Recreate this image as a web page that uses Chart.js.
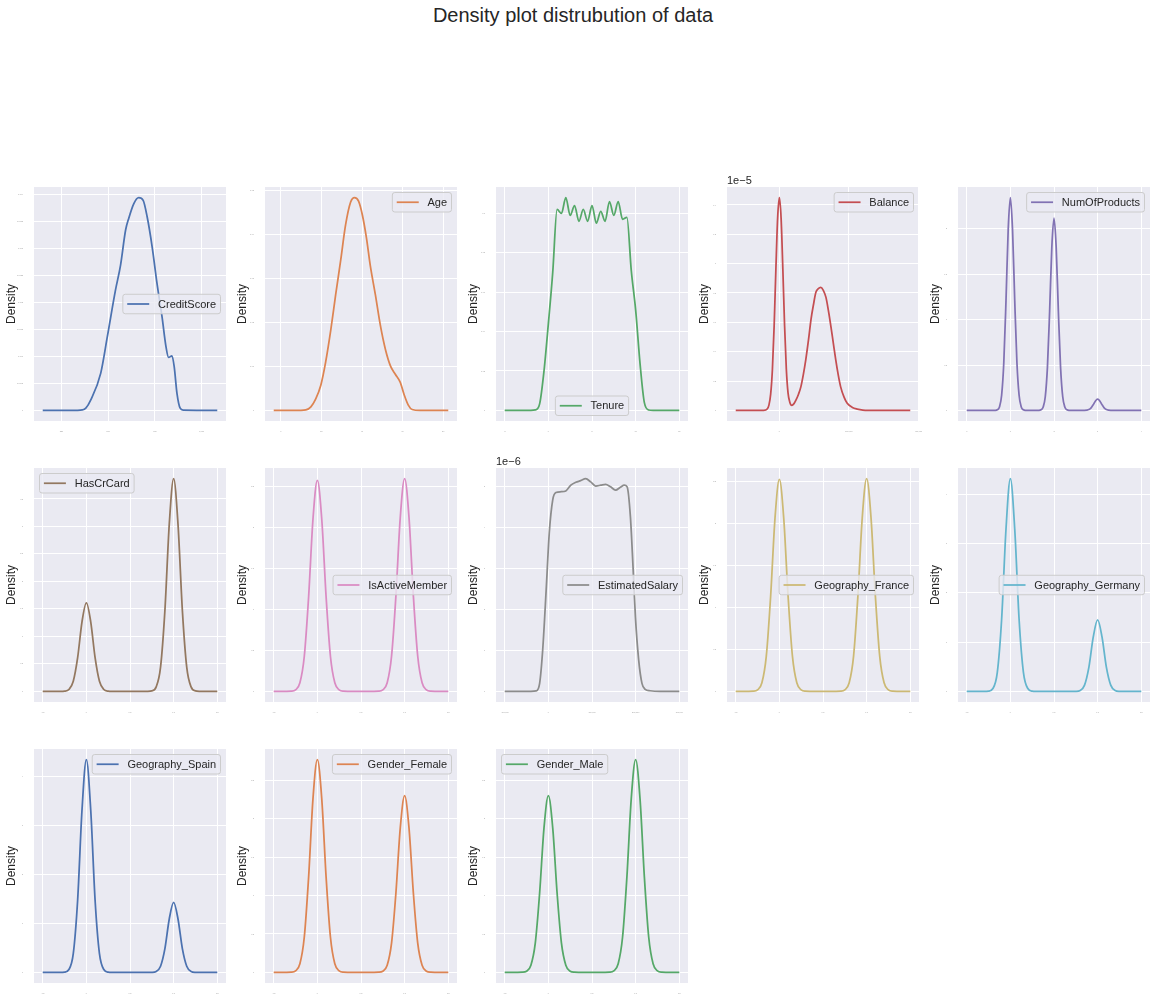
<!DOCTYPE html>
<html><head><meta charset="utf-8">
<script src="https://cdn.jsdelivr.net/npm/chart.js@4.4.1/dist/chart.umd.min.js"></script>
<style>
html,body{margin:0;padding:0;background:#fff;}
body{width:1156px;height:1001px;position:relative;overflow:hidden;font-family:"Liberation Sans",Arial,sans-serif;}
#title{position:absolute;left:0;width:1146px;top:4px;text-align:center;font-size:20px;line-height:22px;color:#262626;}
canvas{position:absolute;}
</style></head><body>
<div id="title">Density plot distrubution of data</div>
<script>
// ---------------- data ----------------
const creditScoreX = [149.5, 300, 362, 380, 406, 460, 495, 539, 566, 593, 610, 637, 663, 687, 708, 735, 761, 788, 809, 823, 841, 853, 868, 885, 901, 1083.5];
const creditScoreY = [0, 0, 0.00001, 0.00004, 0.00019, 0.00069, 0.00136, 0.00223, 0.00269, 0.00334, 0.00356, 0.00383, 0.00394, 0.00389, 0.00359, 0.00303, 0.00235, 0.00173, 0.00118, 0.00098, 0.00101, 0.00081, 0.00031, 0.00004, 0.000005, 0];
const creditScoreXTicks = [250, 500, 750, 1000];
const creditScoreYTicks = [0, 0.0005, 0.001, 0.0015, 0.002, 0.0025, 0.003, 0.0035, 0.004];

const ageX = [-3.5, 9.9, 12.3, 14.8, 17.2, 19.7, 22.1, 24.6, 27, 29.5, 31.9, 34.4, 36.3, 38.3, 40.2, 42.2, 44.1, 46.6, 49, 51.6, 54, 56.4, 58.8, 60.8, 62.8, 64.7, 68.6, 82.5];
const ageY = [0, 0, 0.0001, 0.0008, 0.0026, 0.0057, 0.011, 0.0182, 0.0262, 0.0341, 0.0421, 0.0473, 0.0483, 0.0475, 0.0443, 0.0391, 0.0328, 0.0262, 0.0194, 0.0137, 0.0101, 0.0082, 0.0064, 0.0035, 0.0012, 0.0002, 0, 0];
const ageXTicks = [0, 20, 40, 60, 80];
const ageYTicks = [0, 0.01, 0.02, 0.03, 0.04, 0.05];

const tenureX = [-5, -2.5, -2, -1.5, -1, -0.5, 0, 0.5, 1, 1.5, 2, 2.5, 3, 3.5, 4, 4.5, 5, 5.5, 6, 6.5, 7, 7.5, 8, 8.5, 9, 9.5, 10, 10.5, 11, 11.5, 12, 12.5, 15];
const tenureY = [0, 0, 0, 0.0002, 0.0033, 0.020, 0.044, 0.070, 0.102, 0.100, 0.108, 0.099, 0.104, 0.096, 0.102, 0.096, 0.104, 0.095, 0.101, 0.096, 0.106, 0.099, 0.106, 0.097, 0.098, 0.071, 0.051, 0.024, 0.0039, 0.0002, 0, 0, 0];
const tenureXTicks = [-5, 0, 5, 10, 15];
const tenureYTicks = [0, 0.02, 0.04, 0.06, 0.08, 0.1];

const balanceX = [-125449, -45000, -35000, -30000, -25000, -20000, -15000, -10000, -5000, 0, 5000, 10000, 15000, 20000, 25000, 30000, 36000, 42000, 48000, 55000, 62000, 69000, 76000, 84000, 91000, 98000, 105000, 112000, 119000, 126000, 134000, 141000, 148000, 155000, 162000, 169000, 176000, 186000, 195000, 210000, 224000, 240000, 253000, 376347];
const balanceY = [0, 0, 9e-8, 3.6e-7, 1.11e-6, 2.79e-6, 5.76e-6, 9.62e-6, 1.31e-5, 1.45e-5, 1.31e-5, 9.64e-6, 5.78e-6, 2.82e-6, 1.17e-6, 5.6e-7, 3.4e-7, 4.6e-7, 7.1e-7, 1.1e-6, 1.62e-6, 2.45e-6, 3.46e-6, 4.85e-6, 6.21e-6, 7.2e-6, 8.05e-6, 8.3e-6, 8.39e-6, 8.2e-6, 7.7e-6, 6.8e-6, 5.75e-6, 4.6e-6, 3.46e-6, 2.45e-6, 1.62e-6, 9e-7, 4.8e-7, 2e-7, 9e-8, 2e-8, 0, 0];
const balanceXTicks = [0, 200000, 400000];
const balanceYTicks = [0, 2e-6, 4e-6, 6e-6, 8e-6, 1e-5, 1.2e-5, 1.4e-5];

const productsX = [0, 0.5, 0.6, 0.65, 0.7, 0.75, 0.8, 0.85, 0.9, 0.95, 1, 1.05, 1.1, 1.15, 1.2, 1.25, 1.3, 1.35, 1.4, 1.5, 1.6, 1.65, 1.7, 1.75, 1.8, 1.85, 1.9, 1.95, 2, 2.05, 2.1, 2.15, 2.2, 2.25, 2.3, 2.35, 2.4, 2.5, 2.6, 2.7, 2.75, 2.8, 2.85, 2.9, 2.95, 3, 3.05, 3.1, 3.15, 3.2, 3.25, 3.3, 3.4, 4];
const productsY = [0, 0, 0, 0.0007, 0.006, 0.038, 0.167, 0.530, 1.210, 1.989, 2.345, 1.989, 1.210, 0.530, 0.167, 0.038, 0.006, 0.0007, 0.0001, 0, 0.0001, 0.0006, 0.0055, 0.034, 0.150, 0.479, 1.093, 1.796, 2.118, 1.796, 1.093, 0.479, 0.150, 0.034, 0.0055, 0.0006, 0.0001, 0, 0, 0.0003, 0.002, 0.0087, 0.028, 0.063, 0.104, 0.123, 0.104, 0.063, 0.028, 0.0087, 0.002, 0.0003, 0, 0];
const productsXTicks = [0, 1, 2, 3, 4];
const productsYTicks = [0, 0.5, 1, 1.5, 2];

const salaryX = [-100000, -40000, -28000, -20000, -13000, -5000, 2000, 10000, 17500, 29000, 40000, 51500, 63000, 74000, 85500, 97000, 108500, 120000, 131000, 142500, 154000, 165000, 174000, 180500, 188000, 194000, 199500, 207000, 214500, 222000, 233000, 256000, 300000];
const salaryY = [0, 0, 1e-8, 1.96e-7, 1.01e-6, 2.48e-6, 3.86e-6, 4.68e-6, 4.86e-6, 4.88e-6, 4.90e-6, 5.04e-6, 5.11e-6, 5.15e-6, 5.20e-6, 5.12e-6, 5.02e-6, 5.04e-6, 5.06e-6, 5.00e-6, 4.92e-6, 4.99e-6, 5.04e-6, 5.00e-6, 4.27e-6, 3.05e-6, 1.82e-6, 7.65e-7, 1.96e-7, 4.9e-8, 1.5e-8, 0, 0];
const salaryXTicks = [-100000, 0, 100000, 200000, 300000];
const salaryYTicks = [0, 1e-6, 2e-6, 3e-6, 4e-6, 5e-6];

// shared grid for the 0/1 columns
const binaryX = [-0.5, -0.4, -0.35, -0.3, -0.25, -0.2, -0.15, -0.1, -0.05, 0, 0.05, 0.1, 0.15, 0.2, 0.25, 0.3, 0.35, 0.4, 0.5, 0.6, 0.65, 0.7, 0.75, 0.8, 0.85, 0.9, 0.95, 1, 1.05, 1.1, 1.15, 1.2, 1.25, 1.3, 1.35, 1.4, 1.5];
const binaryXTicks = [-0.5, 0, 0.5, 1, 1.5];

const hasCrCardY = [0, 0, 0, 0.0003, 0.004, 0.034, 0.184, 0.613, 1.265, 1.61, 1.265, 0.613, 0.184, 0.034, 0.004, 0.0003, 0, 0, 0, 0, 0, 0.0008, 0.0093, 0.081, 0.441, 1.474, 3.042, 3.87, 3.042, 1.474, 0.441, 0.081, 0.0093, 0.0008, 0, 0, 0];
const hasCrCardYTicks = [0, 0.5, 1, 1.5, 2, 2.5, 3, 3.5];

const isActiveY = [0, 0, 0.0001, 0.0018, 0.0173, 0.1045, 0.426, 1.158, 2.110, 2.58, 2.110, 1.158, 0.426, 0.1045, 0.0173, 0.0018, 0.0001, 0, 0, 0, 0.0001, 0.0018, 0.0174, 0.105, 0.429, 1.167, 2.127, 2.60, 2.127, 1.167, 0.429, 0.105, 0.0174, 0.0018, 0.0001, 0, 0];
const isActiveYTicks = [0, 0.5, 1, 1.5, 2, 2.5];

const franceY = [0, 0, 0.0001, 0.0018, 0.0169, 0.102, 0.416, 1.131, 2.061, 2.52, 2.061, 1.131, 0.416, 0.102, 0.0169, 0.0018, 0.0001, 0, 0, 0, 0.0001, 0.0018, 0.017, 0.102, 0.417, 1.136, 2.07, 2.53, 2.07, 1.136, 0.417, 0.102, 0.017, 0.0018, 0.0001, 0, 0];
const franceYTicks = [0, 0.5, 1, 1.5, 2, 2.5];

const germanyY = [0, 0, 0, 0.0004, 0.0052, 0.0571, 0.380, 1.465, 3.297, 4.32, 3.297, 1.465, 0.380, 0.0571, 0.0052, 0.0004, 0, 0, 0, 0, 0, 0.0001, 0.0017, 0.0191, 0.127, 0.492, 1.106, 1.45, 1.106, 0.492, 0.127, 0.0191, 0.0017, 0.0001, 0, 0, 0];
const germanyYTicks = [0, 1, 2, 3, 4];

const spainY = [0, 0, 0, 0.0004, 0.0052, 0.0574, 0.382, 1.475, 3.319, 4.35, 3.319, 1.475, 0.382, 0.0574, 0.0052, 0.0004, 0, 0, 0, 0, 0, 0.0001, 0.0017, 0.0189, 0.126, 0.485, 1.091, 1.43, 1.091, 0.485, 0.126, 0.0189, 0.0017, 0.0001, 0, 0, 0];
const spainYTicks = [0, 1, 2, 3, 4];

const femaleY = [0, 0, 0.0001, 0.0019, 0.0186, 0.112, 0.457, 1.244, 2.266, 2.77, 2.266, 1.244, 0.457, 0.112, 0.0186, 0.0019, 0.0001, 0, 0, 0, 0.0001, 0.0016, 0.0154, 0.093, 0.380, 1.033, 1.881, 2.30, 1.881, 1.033, 0.380, 0.093, 0.0154, 0.0016, 0.0001, 0, 0];
const femaleYTicks = [0, 0.5, 1, 1.5, 2, 2.5];

const maleY = [0, 0, 0.0001, 0.0016, 0.0154, 0.093, 0.380, 1.033, 1.881, 2.30, 1.881, 1.033, 0.380, 0.093, 0.0154, 0.0016, 0.0001, 0, 0, 0, 0.0001, 0.0019, 0.0186, 0.112, 0.457, 1.244, 2.266, 2.77, 2.266, 1.244, 0.457, 0.112, 0.0186, 0.0019, 0.0001, 0, 0];
const maleYTicks = [0, 0.5, 1, 1.5, 2, 2.5];

const deep = ['#4C72B0', '#DD8452', '#55A868', '#C44E52', '#8172B3', '#937860', '#DA8BC3', '#8C8C8C', '#CCB974', '#64B5CD'];

const subplots = [
  {label:'CreditScore', x:creditScoreX, y:creditScoreY, xt:creditScoreXTicks, yt:creditScoreYTicks, color:deep[0], loc:'center right'},
  {label:'Age', x:ageX, y:ageY, xt:ageXTicks, yt:ageYTicks, color:deep[1], loc:'upper right'},
  {label:'Tenure', x:tenureX, y:tenureY, xt:tenureXTicks, yt:tenureYTicks, color:deep[2], loc:'lower center'},
  {label:'Balance', x:balanceX, y:balanceY, xt:balanceXTicks, yt:balanceYTicks, color:deep[3], loc:'upper right', exp:-5},
  {label:'NumOfProducts', x:productsX, y:productsY, xt:productsXTicks, yt:productsYTicks, color:deep[4], loc:'upper right'},
  {label:'HasCrCard', x:binaryX, y:hasCrCardY, xt:binaryXTicks, yt:hasCrCardYTicks, color:deep[5], loc:'upper left'},
  {label:'IsActiveMember', x:binaryX, y:isActiveY, xt:binaryXTicks, yt:isActiveYTicks, color:deep[6], loc:'center right'},
  {label:'EstimatedSalary', x:salaryX, y:salaryY, xt:salaryXTicks, yt:salaryYTicks, color:deep[7], loc:'center right', exp:-6},
  {label:'Geography_France', x:binaryX, y:franceY, xt:binaryXTicks, yt:franceYTicks, color:deep[8], loc:'center right'},
  {label:'Geography_Germany', x:binaryX, y:germanyY, xt:binaryXTicks, yt:germanyYTicks, color:deep[9], loc:'center right'},
  {label:'Geography_Spain', x:binaryX, y:spainY, xt:binaryXTicks, yt:spainYTicks, color:deep[0], loc:'upper right'},
  {label:'Gender_Female', x:binaryX, y:femaleY, xt:binaryXTicks, yt:femaleYTicks, color:deep[1], loc:'upper right'},
  {label:'Gender_Male', x:binaryX, y:maleY, xt:binaryXTicks, yt:maleYTicks, color:deep[2], loc:'upper left'}
];

// ---------------- layout / style ----------------
const FONT = '"Liberation Sans", Arial, sans-serif';
const COL_LEFT = [34, 265, 496, 727, 958];
const ROW_TOP = [187, 468, 749];
const PLOT_W = 192, PLOT_H = 234, AX_W = 34, PAD_TOP = 22, AX_H = 18, PAD_R = 4;

const bgPlugin = {
  id: 'axbg',
  beforeDraw(chart) {
    const {ctx, chartArea: a} = chart;
    ctx.save();
    ctx.fillStyle = '#EAEAF2';
    ctx.fillRect(a.left, a.top, a.right - a.left, a.bottom - a.top);
    ctx.restore();
  }
};

const legendPlugin = {
  id: 'mplLegend',
  afterDraw(chart, args, opts) {
    const ds = chart.data.datasets[0];
    const ctx = chart.ctx, a = chart.chartArea;
    const fs = 11, pad = 4.4, hl = 22, htp = 8.8, bap = 5.5, h = 19.5;
    ctx.save();
    ctx.font = fs + 'px ' + FONT;
    const tw = ctx.measureText(ds.label).width;
    const w = pad + hl + htp + tw + pad;
    const loc = opts.loc || 'upper right';
    let x, y;
    if (loc.indexOf('right') >= 0) x = a.right - bap - w;
    else if (loc.indexOf('left') >= 0) x = a.left + bap;
    else x = (a.left + a.right) / 2 - w / 2;
    if (loc.indexOf('upper') === 0) y = a.top + bap;
    else if (loc.indexOf('lower') === 0) y = a.bottom - bap - h;
    else y = (a.top + a.bottom) / 2 - h / 2;
    const r = 2.5;
    ctx.beginPath();
    ctx.moveTo(x + r, y);
    ctx.lineTo(x + w - r, y); ctx.quadraticCurveTo(x + w, y, x + w, y + r);
    ctx.lineTo(x + w, y + h - r); ctx.quadraticCurveTo(x + w, y + h, x + w - r, y + h);
    ctx.lineTo(x + r, y + h); ctx.quadraticCurveTo(x, y + h, x, y + h - r);
    ctx.lineTo(x, y + r); ctx.quadraticCurveTo(x, y, x + r, y);
    ctx.closePath();
    ctx.fillStyle = 'rgba(234,234,242,0.8)';
    ctx.fill();
    ctx.strokeStyle = '#cccccc';
    ctx.lineWidth = 1;
    ctx.stroke();
    ctx.beginPath();
    ctx.strokeStyle = ds.borderColor;
    ctx.lineWidth = 1.75;
    ctx.moveTo(x + pad, y + h / 2);
    ctx.lineTo(x + pad + hl, y + h / 2);
    ctx.stroke();
    ctx.fillStyle = '#262626';
    ctx.textBaseline = 'middle';
    ctx.textAlign = 'left';
    ctx.fillText(ds.label, x + pad + hl + htp, y + h / 2 + 0.5);
    ctx.restore();
  }
};

const offsetPlugin = {
  id: 'offsetText',
  afterDraw(chart, args, opts) {
    if (!opts.text) return;
    const ctx = chart.ctx, a = chart.chartArea;
    ctx.save();
    ctx.font = '11px ' + FONT;
    ctx.fillStyle = '#262626';
    ctx.textAlign = 'left';
    ctx.textBaseline = 'alphabetic';
    ctx.fillText(opts.text, a.left, a.top - 3);
    ctx.restore();
  }
};

subplots.forEach((sp, i) => {
  const row = Math.floor(i / 5), col = i % 5;
  const cw = AX_W + PLOT_W + PAD_R, ch = PAD_TOP + PLOT_H + AX_H;
  const canvas = document.createElement('canvas');
  canvas.width = cw; canvas.height = ch;
  canvas.style.left = (COL_LEFT[col] - AX_W) + 'px';
  canvas.style.top = (ROW_TOP[row] - PAD_TOP) + 'px';
  canvas.style.width = cw + 'px';
  canvas.style.height = ch + 'px';
  document.body.appendChild(canvas);

  const x0 = sp.x[0], x1 = sp.x[sp.x.length - 1], span = x1 - x0;
  const ymax = Math.max.apply(null, sp.y);
  const expDiv = sp.exp ? Math.pow(10, sp.exp) : 1;

  new Chart(canvas, {
    type: 'line',
    data: {
      datasets: [{
        label: sp.label,
        data: sp.x.map((v, k) => ({x: v, y: sp.y[k]})),
        borderColor: sp.color,
        borderWidth: 1.75,
        pointRadius: 0,
        pointHoverRadius: 0,
        fill: false,
        cubicInterpolationMode: 'monotone'
      }]
    },
    options: {
      responsive: false,
      animation: false,
      devicePixelRatio: 1,
      events: [],
      layout: {padding: {top: PAD_TOP, right: PAD_R, left: 0, bottom: 0}},
      plugins: {
        legend: {display: false},
        tooltip: {enabled: false},
        mplLegend: {loc: sp.loc},
        offsetText: {text: sp.exp ? '1e\u2212' + Math.abs(sp.exp) : ''}
      },
      scales: {
        x: {
          type: 'linear',
          min: x0 - 0.05 * span,
          max: x1 + 0.05 * span,
          afterBuildTicks: s => { s.ticks = sp.xt.map(v => ({value: v})); },
          afterFit: s => { s.height = AX_H; s.paddingLeft = 0; s.paddingRight = 0; },
          grid: {color: '#ffffff', lineWidth: 1, drawTicks: false},
          border: {display: false},
          ticks: {font: {size: 2, family: FONT}, color: '#9a9a9a', padding: 9, maxRotation: 0, autoSkip: false}
        },
        y: {
          type: 'linear',
          min: -0.05 * ymax,
          max: 1.05 * ymax,
          afterBuildTicks: s => { s.ticks = sp.yt.map(v => ({value: v})); },
          afterFit: s => { s.width = AX_W; s.paddingTop = 0; s.paddingBottom = 0; },
          grid: {color: '#ffffff', lineWidth: 1, drawTicks: false},
          border: {display: false},
          ticks: {font: {size: 2, family: FONT}, color: '#9a9a9a', padding: 11, autoSkip: false,
                  callback: v => String(+(v / expDiv).toFixed(4))},
          title: {display: true, text: 'Density', color: '#262626', font: {size: 12, family: FONT}, padding: {top: 4.5, bottom: 0}}
        }
      }
    },
    plugins: [bgPlugin, legendPlugin, offsetPlugin]
  });
});
</script>
</body></html>
